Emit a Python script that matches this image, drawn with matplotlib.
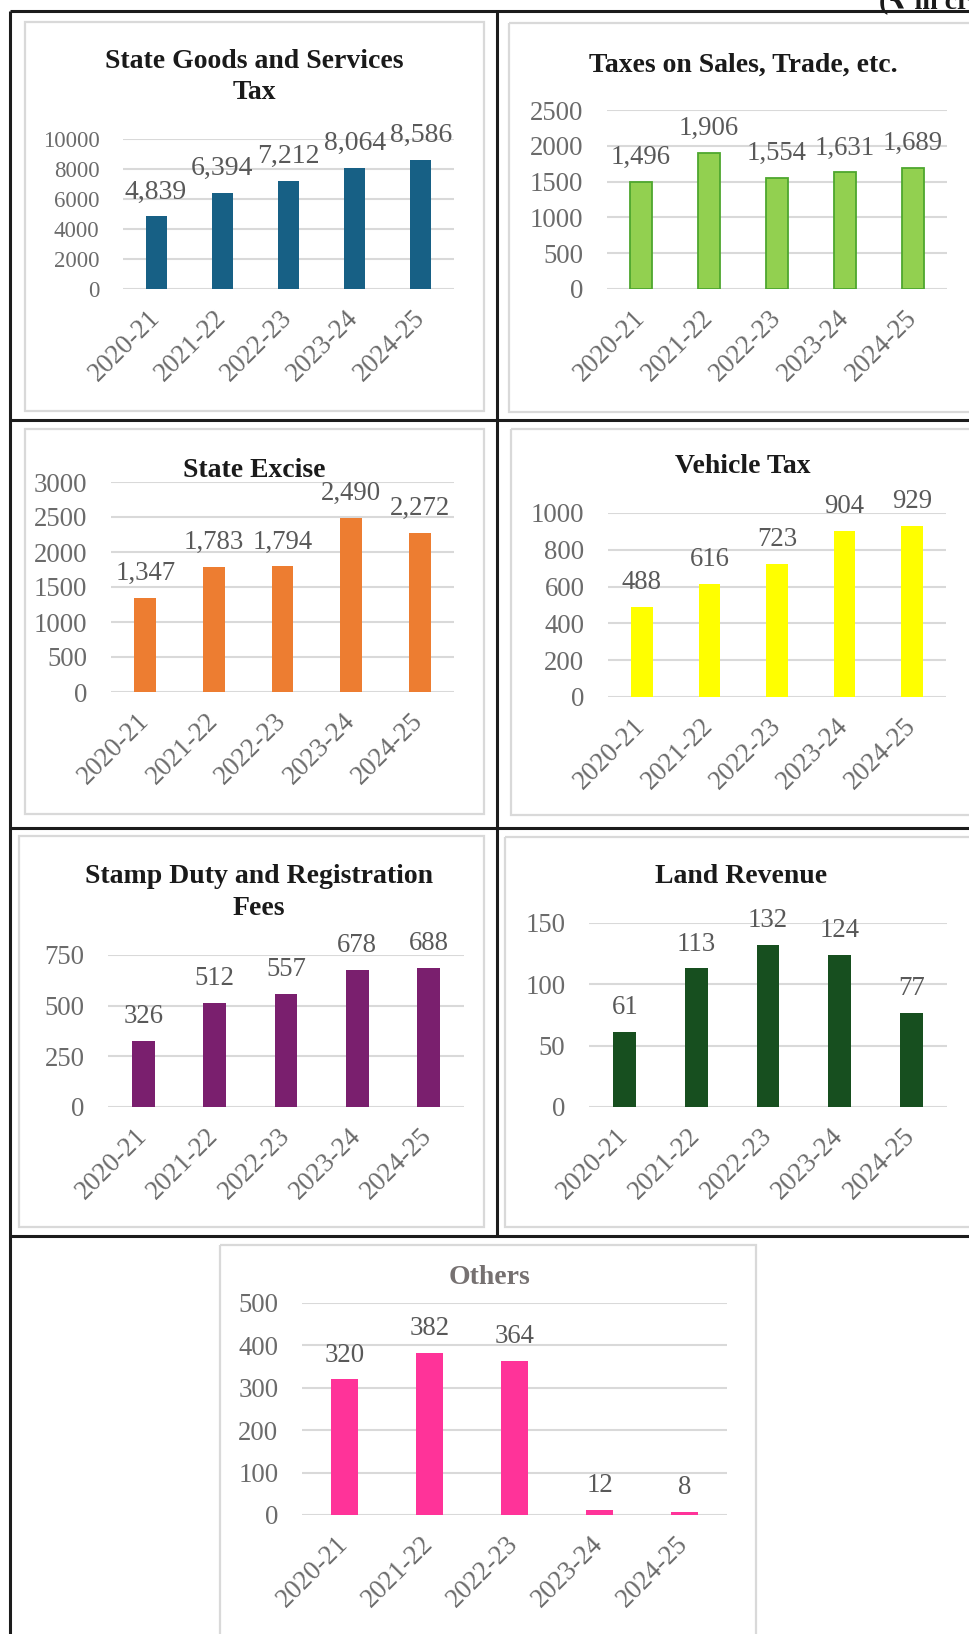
import numpy as np
import matplotlib.pyplot as plt
from matplotlib.patches import Rectangle

plt.rcParams['font.family'] = ['Liberation Serif', 'DejaVu Sans']

# data (₹ in crore)
years = ['2020-21', '2021-22', '2022-23', '2023-24', '2024-25']
sgst = [4839, 6394, 7212, 8064, 8586]
sales_tax = [1496, 1906, 1554, 1631, 1689]
excise = [1347, 1783, 1794, 2490, 2272]
vehicle = [488, 616, 723, 904, 929]
stamp = [326, 512, 557, 678, 688]
land = [61, 113, 132, 124, 77]
others = [320, 382, 364, 12, 8]

W, H = 970, 1634
fig = plt.figure(figsize=(W / 100, H / 100), dpi=100)

# background axes in pixel units (y down) for the table grid and titles
bg = fig.add_axes([0, 0, 1, 1])
bg.set_xlim(0, W)
bg.set_ylim(H, 0)
bg.axis('off')

tbl = '#1c1c1c'
bg.plot([10, W], [11, 11], color=tbl, lw=2.2, solid_capstyle='butt')
bg.plot([10, 10], [11, H], color=tbl, lw=2.2, solid_capstyle='butt')
for yy in [420, 828, 1236]:
    bg.plot([10, W], [yy, yy], color=tbl, lw=2.2, solid_capstyle='butt')
bg.plot([497, 497], [11, 1236], color=tbl, lw=2.2, solid_capstyle='butt')

bg.text(879, 9, '(₹ in crore)', fontsize=20, fontweight='bold', color='#1a1a1a',
        ha='left', va='baseline')

# light grey chart frames
frames = [(25, 22, 484, 411), (509, 23, 990, 412),
          (25, 429, 484, 814), (511, 429, 990, 815),
          (19, 836, 484, 1227), (505, 837, 990, 1227),
          (220, 1245, 756, 1660)]
for fx0, fy0, fx1, fy1 in frames:
    bg.add_patch(Rectangle((fx0, fy0), fx1 - fx0, fy1 - fy0, fill=False,
                           edgecolor='#d9d9d9', lw=1.6))


def title(x, lines, ys, color='#1a1a1a'):
    for txt, yy in zip(lines, ys):
        bg.text(x, yy, txt, ha='center', va='baseline', fontsize=20,
                fontweight='bold', color=color)


def bar_panel(x0, x1, ytop, ybot, values, ymax, step, color, edge=None,
              tick_fs=19.3, lab_fs=19.3):
    ax = fig.add_axes([x0 / W, 1 - ybot / H, (x1 - x0) / W, (ybot - ytop) / H])
    ax.patch.set_alpha(0)
    ax.set_xlim(-0.5, 4.5)
    ax.set_ylim(0, ymax)
    ticks = np.arange(0, ymax + step / 2, step)
    for t in ticks:
        ax.axhline(t, color='#d9d9d9', lw=1.5, zorder=0)
    bars = ax.bar(range(len(values)), values, width=0.32, color=color,
                  edgecolor=edge if edge else color, lw=1.3 if edge else 0, zorder=2)
    ax.bar_label(bars, labels=[f'{v:,}' for v in values], padding=8.5,
                 fontsize=lab_fs, color='#595959')
    ax.set_yticks(ticks)
    ax.set_yticklabels([str(int(t)) for t in ticks], fontsize=tick_fs, color='#6b6b6b')
    ax.set_xticks(range(len(years)))
    ax.set_xticklabels(years, fontsize=19.3, color='#6b6b6b', rotation=45,
                       ha='right', va='center', rotation_mode='anchor')
    ax.tick_params(axis='y', length=0, pad=17)
    ax.tick_params(axis='x', length=0, pad=18)
    for s in ax.spines.values():
        s.set_visible(False)
    return ax


title(254, ['State Goods and Services', 'Tax'], [68, 99])
bar_panel(123, 454, 139, 289, sgst, 10000, 2000, '#176085', tick_fs=16.5, lab_fs=20)

title(743, ['Taxes on Sales, Trade, etc.'], [72])
bar_panel(607, 947, 110, 289, sales_tax, 2500, 500, '#92d050', edge='#4ea72e')

title(254, ['State Excise'], [477])
bar_panel(111, 454, 482, 692, excise, 3000, 500, '#ed7d31')

title(743, ['Vehicle Tax'], [473])
bar_panel(608, 946, 513, 697, vehicle, 1000, 200, '#ffff00')

title(259, ['Stamp Duty and Registration', 'Fees'], [883, 915])
bar_panel(108, 464, 955, 1107, stamp, 750, 250, '#7a1f6e')

title(741, ['Land Revenue'], [883])
bar_panel(589, 947, 923, 1107, land, 150, 50, '#174f1f')

title(490, ['Others'], [1284], color='#767171')
bar_panel(302, 727, 1303, 1515, others, 500, 100, '#ff3399')

fig.savefig('out.png', dpi=100)
